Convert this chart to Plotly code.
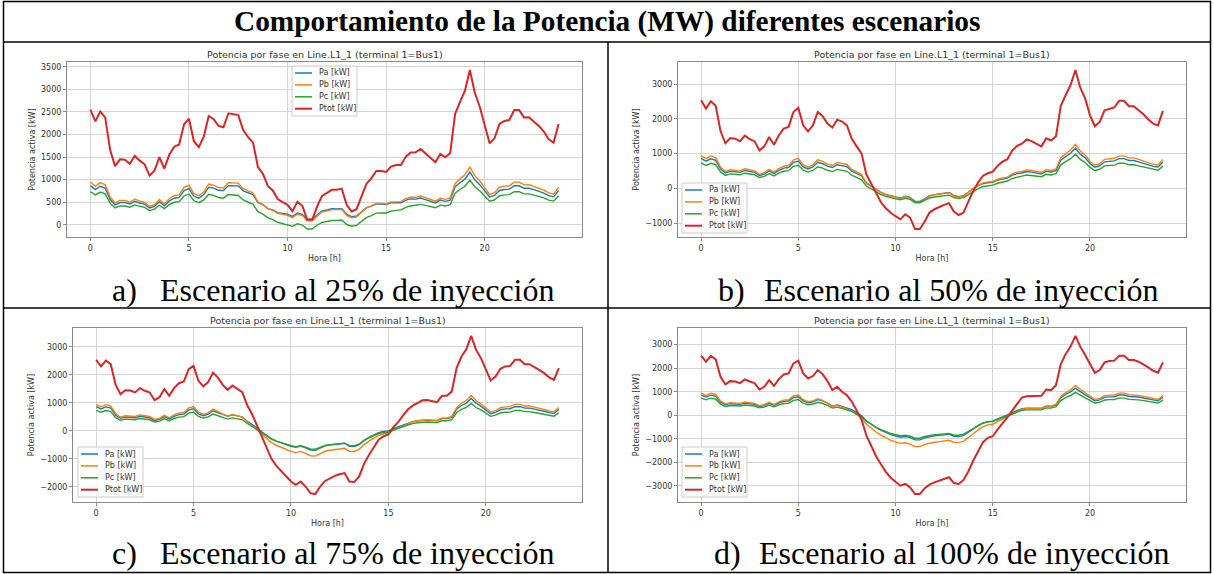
import plotly.graph_objects as go

W, H = 1214, 574

HOURS = [i / 4 for i in range(96)]
SERIES_NAMES = ["Pa [kW]", "Pb [kW]", "Pc [kW]", "Ptot [kW]"]
COLORS = ["#1f77b4", "#ff7f0e", "#2ca02c", "#d62728"]
X_TICKS = [0, 5, 10, 15, 20]

MAIN_TITLE = "Comportamiento de la Potencia (MW) diferentes escenarios"
CHART_TITLE = "Potencia por fase en Line.L1_1 (terminal 1=Bus1)"
X_LABEL = "Hora [h]"
Y_LABEL = "Potencia activa [kW]"
CAPTION_LETTERS = ["a)", "b)", "c)", "d)"]
CAPTION_TEXTS = ["Escenario al 25% de inyección", "Escenario al 50% de inyección",
                 "Escenario al 75% de inyección", "Escenario al 100% de inyección"]

# ---------------- Scenario a) 25 % ----------------
PA_A = [867, 779, 853, 809, 564, 442, 493, 490, 459, 519, 483, 456, 371, 408, 510, 422, 527, 588, 605, 757, 799,
        631, 589, 670, 831, 811, 763, 757, 867, 867, 862, 752, 704, 669, 488, 446, 358, 330, 269, 250, 233,
        185, 260, 231, 125, 125, 227, 309, 328, 354, 352, 359, 234, 181, 195, 294, 380, 414, 464, 459, 450,
        487, 494, 487, 546, 572, 567, 593, 558, 524, 485, 546, 519, 547, 842, 930, 1011,
        1166, 995, 889, 751, 614, 651, 760, 782, 789, 864, 864, 808, 809, 777, 745, 702, 644, 619, 760]
PB_A = [949, 852, 934, 885, 618, 484, 539, 536, 502, 567, 528, 498, 405, 446, 558, 461, 577, 644, 662, 828, 874,
        689, 642, 729, 904, 878, 825, 816, 933, 930, 923, 801, 745, 704, 503, 453, 355, 321, 252, 228, 208,
        156, 236, 202, 87, 87, 198, 286, 307, 335, 335, 344, 208, 153, 169, 278, 375, 417, 474, 472, 463,
        505, 516, 512, 580, 610, 608, 637, 600, 563, 523, 590, 562, 594, 917, 1016, 1106,
        1276, 1088, 973, 822, 671, 712, 831, 856, 863, 945, 945, 884, 885, 850, 815, 768, 705, 677, 831]
PC_A = [734, 660, 723, 685, 478, 374, 418, 415, 389, 439, 409, 386, 314, 346, 432, 357, 446, 498, 513, 641, 677,
        531, 489, 552, 676, 652, 605, 589, 672, 660, 648, 550, 496, 451, 289, 236, 153, 115, 55, 28, 7,
        -35, 21, -7, -95, -95, -11, 53, 72, 93, 95, 104, 5, -33, -14, 73, 157, 204, 257, 264, 261,
        303, 320, 330, 387, 420, 431, 452, 428, 405, 378, 435, 415, 445, 697, 781, 853,
        988, 842, 753, 636, 520, 552, 644, 662, 668, 732, 732, 684, 685, 658, 631, 595, 546, 524, 644]
PTOT_A = [2550, 2290, 2510, 2380, 1660, 1300, 1450, 1440, 1350, 1525, 1420, 1340, 1090, 1200, 1500, 1240, 1550,
          1730, 1780, 2225, 2350,
          1850, 1720, 1950, 2410, 2340, 2190, 2160, 2470, 2455, 2430, 2100, 1940, 1820, 1275, 1130, 860, 760,
          570, 500, 440, 300, 510, 420, 110, 110, 405, 640, 700, 775, 775, 800, 440, 295, 345, 640, 905, 1030,
          1190, 1190, 1170, 1290, 1325, 1325, 1510, 1600, 1605, 1680, 1585, 1490, 1385, 1570, 1495, 1585,
          2455, 2725, 2970,
          3430, 2925, 2615, 2210, 1805, 1915, 2235, 2300, 2320, 2540, 2540, 2375, 2380, 2285, 2190, 2065,
          1895, 1820, 2235]

# ---------------- Scenario b) 50 % ----------------
PA_B = [864, 782, 853, 809, 561, 442, 493, 486, 462, 517, 483, 462, 371, 411, 503, 427, 520, 585, 602, 748, 789,
        617, 559, 619, 752, 711, 639, 602, 681, 664, 627, 497, 424, 358, 152, 62, -32, -115, -172, -215, -248,
        -279, -228, -260, -373, -373, -299, -210, -178, -154, -136, -120, -202, -236, -213, -106, -3, 79, 141,
        164, 178, 237, 274, 296, 381, 425, 443, 485, 468, 442, 415, 493, 472, 512, 810, 914, 1012,
        1159, 986, 881, 716, 609, 651, 765, 782, 792, 857, 857, 804, 804, 765, 726, 673, 634, 617, 758]
PB_B = [945, 856, 934, 885, 614, 484, 539, 532, 506, 565, 528, 506, 405, 450, 551, 467, 569, 640, 658, 818, 863,
        676, 612, 678, 823, 780, 701, 660, 748, 729, 689, 547, 467, 396, 170, 72, -30, -121, -182, -228, -265,
        -298, -243, -277, -400, -400, -320, -223, -188, -162, -142, -124, -214, -253, -228, -110, 2, 90, 159,
        183, 200, 263, 303, 326, 418, 467, 486, 534, 514, 485, 456, 541, 517, 561, 887, 1000, 1107,
        1269, 1079, 963, 783, 666, 712, 837, 856, 867, 937, 937, 880, 880, 837, 794, 737, 694, 675, 830]
PC_B = [732, 662, 723, 685, 475, 374, 418, 412, 392, 438, 409, 392, 314, 348, 426, 361, 441, 495, 510, 634, 668,
        522, 469, 517, 624, 586, 522, 485, 548, 527, 493, 380, 311, 249, 69, -15, -99, -176, -227, -269, -300,
        -326, -288, -316, -411, -411, -350, -276, -249, -229, -211, -195, -263, -288, -266, -172, -80, -4, 55,
        79, 94, 149, 186, 212, 286, 329, 352, 387, 376, 356, 336, 405, 388, 425, 678, 770, 856,
        982, 835, 746, 606, 516, 552, 648, 662, 671, 726, 726, 681, 681, 648, 615, 570, 537, 523, 642]
PTOT_B = [2540, 2300, 2510, 2380, 1650, 1300, 1450, 1430, 1360, 1520, 1420, 1360, 1090, 1210, 1480, 1255, 1530,
          1720, 1770, 2200, 2320,
          1815, 1640, 1815, 2200, 2080, 1865, 1750, 1980, 1925, 1815, 1430, 1210, 1010, 400, 130, -150, -400,
          -570, -700, -800, -890, -745, -840, -1170, -1170, -955, -695, -600, -530, -475, -425, -665, -765,
          -695, -375, -70, 175, 365, 435, 480, 655, 770, 840, 1090, 1225, 1285, 1410, 1360, 1285, 1210, 1440,
          1380, 1500, 2375, 2685, 2975,
          3410, 2900, 2590, 2105, 1790, 1915, 2250, 2300, 2330, 2520, 2520, 2365, 2365, 2250, 2135, 1980,
          1865, 1815, 2230]

# ---------------- Scenario c) 75 % ----------------
PA_C = [862, 782, 853, 809, 558, 445, 493, 490, 466, 519, 486, 466, 372, 408, 507, 425, 519, 578, 598, 748, 789,
        608, 542, 598, 717, 658, 572, 516, 570, 539, 498, 343, 239, 108, -32, -155, -288, -368, -434, -488,
        -550, -590, -546, -607, -688, -699, -607, -537, -504, -476, -457, -444, -549, -558, -492, -341, -235,
        -151, -62, -25, -3, 79, 139, 212, 284, 328, 360, 388, 389, 373, 360, 434, 434, 482, 768, 905, 992,
        1153, 983, 882, 741, 612, 660, 753, 782, 789, 862, 862, 809, 809, 774, 741, 700, 648, 619, 762]
PB_C = [943, 856, 934, 885, 610, 487, 539, 536, 510, 567, 532, 510, 407, 446, 554, 465, 567, 632, 655, 818, 863,
        663, 587, 642, 765, 696, 597, 529, 582, 539, 487, 315, 192, 38, -120, -267, -419, -516, -592, -660,
        -732, -777, -735, -803, -890, -903, -803, -731, -693, -663, -640, -624, -733, -739, -662, -493, -371,
        -266, -161, -113, -85, 11, 85, 176, 259, 315, 361, 389, 395, 382, 371, 456, 457, 515, 828, 986, 1083,
        1261, 1075, 965, 811, 670, 722, 824, 856, 863, 943, 943, 885, 885, 846, 811, 766, 709, 677, 833]
PC_C = [730, 662, 723, 685, 472, 377, 418, 415, 395, 439, 412, 395, 315, 346, 429, 360, 439, 490, 507, 634, 668,
        514, 456, 500, 598, 546, 471, 420, 463, 432, 394, 262, 170, 54, -67, -178, -293, -366, -424, -473,
        -528, -563, -528, -580, -648, -658, -580, -523, -494, -471, -453, -442, -528, -533, -475, -346, -254,
        -176, -97, -62, -41, 31, 86, 153, 216, 257, 289, 312, 315, 304, 294, 359, 359, 402, 644, 765, 840,
        976, 832, 747, 628, 518, 559, 638, 662, 668, 730, 730, 685, 685, 655, 628, 593, 549, 524, 645]
PTOT_C = [2535, 2300, 2510, 2380, 1640, 1310, 1450, 1440, 1370, 1525, 1430, 1370, 1095, 1200, 1490, 1250, 1525,
          1700, 1760, 2200, 2320,
          1785, 1585, 1740, 2080, 1900, 1640, 1465, 1615, 1510, 1380, 920, 600, 200, -220, -600, -1000, -1250,
          -1450, -1620, -1810, -1930, -1810, -1990, -2225, -2260, -1990, -1790, -1690, -1610, -1550, -1510,
          -1810, -1830, -1630, -1180, -860, -595, -320, -200, -130, 120, 310, 540, 760, 900, 1010, 1090, 1100,
          1060, 1025, 1250, 1250, 1400, 2240, 2655, 2915,
          3390, 2890, 2595, 2180, 1800, 1940, 2215, 2300, 2320, 2535, 2535, 2380, 2380, 2275, 2180, 2060,
          1905, 1820, 2240]

# ---------------- Scenario d) 100 % ----------------
PA_D = [860, 774, 857, 808, 556, 445, 493, 488, 464, 517, 488, 464, 372, 411, 508, 425, 522, 590, 605, 750, 789,
        607, 536, 574, 666, 611, 512, 388, 439, 374, 327, 237, 114, -8, -232, -384, -523, -631, -737, -817,
        -875, -929, -900, -947, -1045, -1045, -961, -905, -872, -849, -830, -803, -890, -905, -851, -728,
        -578, -441, -326, -268, -248, -154, -77, 9, 103, 193, 280, 298, 301, 299, 296, 385, 373, 443, 747,
        889, 992,
        1146, 991, 870, 750, 614, 653, 763, 784, 789, 860, 860, 797, 797, 774, 734, 692, 643, 614, 763]
PB_D = [941, 846, 937, 884, 608, 487, 539, 534, 508, 565, 534, 508, 407, 450, 556, 465, 571, 645, 662, 820, 863,
        660, 578, 612, 702, 637, 522, 376, 425, 341, 282, 180, 33, -115, -367, -550, -709, -842, -964, -1062,
        -1131, -1191, -1166, -1222, -1327, -1327, -1237, -1182, -1143, -1117, -1094, -1060, -1150, -1161,
        -1095, -956, -782, -617, -480, -406, -381, -268, -175, -66, 42, 152, 261, 280, 289, 291, 293, 396,
        386, 469, 802, 966, 1083,
        1254, 1084, 952, 820, 671, 714, 835, 857, 863, 941, 941, 872, 872, 846, 804, 757, 703, 671, 835]
PC_D = [729, 655, 726, 684, 471, 377, 418, 413, 393, 438, 413, 393, 315, 348, 431, 360, 442, 500, 513, 635, 668,
        513, 451, 479, 552, 502, 416, 306, 345, 285, 241, 163, 53, -57, -251, -387, -508, -607, -699, -771,
        -824, -870, -849, -890, -972, -972, -902, -858, -828, -808, -791, -766, -837, -849, -799, -692, -561,
        -438, -334, -281, -262, -178, -109, -28, 54, 135, 215, 231, 236, 236, 236, 314, 306, 368, 625, 750,
        840,
        971, 840, 737, 635, 520, 553, 647, 664, 668, 729, 729, 675, 675, 655, 622, 586, 544, 520, 647]
PTOT_D = [2530, 2275, 2520, 2375, 1635, 1310, 1450, 1435, 1365, 1520, 1435, 1365, 1095, 1210, 1495, 1250, 1535,
          1735, 1780, 2205, 2320,
          1780, 1565, 1665, 1920, 1750, 1450, 1070, 1210, 1000, 850, 580, 200, -180, -850, -1320, -1740, -2080,
          -2400, -2650, -2830, -2990, -2915, -3060, -3345, -3345, -3100, -2945, -2845, -2775, -2715, -2630,
          -2875, -2915, -2745, -2375, -1920, -1495, -1140, -955, -890, -600, -360, -85, 200, 480, 755, 810,
          825, 825, 825, 1095, 1065, 1280, 2175, 2605, 2915,
          3370, 2915, 2560, 2205, 1805, 1920, 2245, 2305, 2320, 2530, 2530, 2345, 2345, 2275, 2160, 2035,
          1890, 1805, 2245]

Y_TICKS_A = [0, 500, 1000, 1500, 2000, 2500, 3000, 3500]
Y_TICKS_B = [-1000, 0, 1000, 2000, 3000]
Y_TICKS_C = [-2000, -1000, 0, 1000, 2000, 3000]
Y_TICKS_D = [-3000, -2000, -1000, 0, 1000, 2000, 3000]

# layout (pixels): plot box (left, top, right, bottom), legend box top-left, caption positions
PANELS = [
    dict(series=[PA_A, PB_A, PC_A, PTOT_A], yticks=Y_TICKS_A, box=(67, 62, 582, 237),
         legend=(292, 66), cap=(110, 158, 290)),
    dict(series=[PA_B, PB_B, PC_B, PTOT_B], yticks=Y_TICKS_B, box=(678, 62, 1186, 237),
         legend=(682, 183), cap=(716, 762, 290)),
    dict(series=[PA_C, PB_C, PC_C, PTOT_C], yticks=Y_TICKS_C, box=(73, 328, 582, 502),
         legend=(78, 447), cap=(110, 158, 553)),
    dict(series=[PA_D, PB_D, PC_D, PTOT_D], yticks=Y_TICKS_D, box=(678, 328, 1186, 502),
         legend=(682, 447), cap=(712, 757, 553)),
]
LEG_W, LEG_H, LEG_ROW, LEG_FIRST = 65, 50, 11.9, 7.0


def fx(px):
    return px / W


def fy(py):
    return 1 - py / H


fig = go.Figure()
layout = dict(width=W, height=H, autosize=False, margin=dict(l=0, r=0, t=0, b=0),
              paper_bgcolor="white", plot_bgcolor="white", showlegend=False,
              font=dict(family="DejaVu Sans", size=8, color="#333"))
annotations = []
shapes = []

xmin, xmax = HOURS[0], HOURS[-1]
xpad = 0.05 * (xmax - xmin)

for i, p in enumerate(PANELS):
    n = "" if i == 0 else str(i + 1)
    for k, vals in enumerate(p["series"]):
        assert len(vals) == len(HOURS)
        fig.add_trace(go.Scatter(
            x=HOURS, y=vals, mode="lines", name=SERIES_NAMES[k],
            line=dict(color=COLORS[k], width=2.0 if k == 3 else 1.4),
            xaxis="x" + n, yaxis="y" + n))
    allv = [v for s in p["series"] for v in s]
    ymin, ymax = min(allv), max(allv)
    ypad = 0.05 * (ymax - ymin)
    l, t, r, b = p["box"]
    common = dict(showline=True, mirror=True, linecolor="#8a8a8a", linewidth=1,
                  showgrid=True, gridcolor="#d4d4d4", gridwidth=1, zeroline=False,
                  ticks="outside", ticklen=3, tickcolor="#8a8a8a",
                  tickfont=dict(family="DejaVu Sans", size=8, color="#333"))
    layout["xaxis" + n] = dict(domain=[fx(l), fx(r)], anchor="y" + n,
                               range=[xmin - xpad, xmax + xpad], tickvals=X_TICKS,
                               title=dict(text=X_LABEL, standoff=3,
                                          font=dict(family="DejaVu Sans", size=8, color="#333")),
                               **common)
    layout["yaxis" + n] = dict(domain=[fy(b), fy(t)], anchor="x" + n,
                               range=[ymin - ypad, ymax + ypad], tickvals=p["yticks"],
                               title=dict(text=Y_LABEL, standoff=4,
                                          font=dict(family="DejaVu Sans", size=8, color="#333")),
                               **common)
    # legend (matplotlib-like compact box)
    lx, ly = p["legend"]
    shapes.append(dict(type="rect", xref="paper", yref="paper", layer="above",
                       x0=fx(lx), x1=fx(lx + LEG_W), y0=fy(ly + LEG_H), y1=fy(ly),
                       fillcolor="rgba(255,255,255,0.85)", line=dict(color="#cccccc", width=1)))
    for k, name in enumerate(SERIES_NAMES):
        ey = ly + LEG_FIRST + LEG_ROW * k
        shapes.append(dict(type="line", xref="paper", yref="paper", layer="above",
                           x0=fx(lx + 3), x1=fx(lx + 20), y0=fy(ey), y1=fy(ey),
                           line=dict(color=COLORS[k], width=2.0 if k == 3 else 1.5)))
        annotations.append(dict(text=name, x=fx(lx + 25), y=fy(ey), xref="paper", yref="paper",
                                xanchor="left", yanchor="middle", showarrow=False,
                                font=dict(family="DejaVu Sans", size=8, color="#333")))
    # chart title
    annotations.append(dict(text=CHART_TITLE, x=fx((l + r) / 2), y=fy(t - 8), xref="paper", yref="paper",
                            xanchor="center", yanchor="middle", showarrow=False,
                            font=dict(family="DejaVu Sans", size=9.5, color="#333")))
    cx_letter, cx_text, cy = p["cap"]
    annotations.append(dict(text=CAPTION_LETTERS[i], x=fx(cx_letter), y=fy(cy), xref="paper", yref="paper",
                            xanchor="left", yanchor="middle", showarrow=False,
                            font=dict(family="Liberation Serif", size=32, color="black")))
    annotations.append(dict(text=CAPTION_TEXTS[i], x=fx(cx_text), y=fy(cy), xref="paper", yref="paper",
                            xanchor="left", yanchor="middle", showarrow=False,
                            font=dict(family="Liberation Serif", size=32, color="black")))

annotations.append(dict(text="<b>" + MAIN_TITLE + "</b>", x=fx(607), y=fy(21), xref="paper", yref="paper",
                        xanchor="center", yanchor="middle", showarrow=False,
                        font=dict(family="Liberation Serif", size=29.3, color="black")))


def hline(y, x0, x1):
    return dict(type="line", xref="paper", yref="paper", x0=fx(x0), x1=fx(x1), y0=fy(y), y1=fy(y),
                line=dict(color="black", width=1.5))


def vline(x, y0, y1):
    return dict(type="line", xref="paper", yref="paper", x0=fx(x), x1=fx(x), y0=fy(y0), y1=fy(y1),
                line=dict(color="black", width=1.5))


shapes += [hline(1.5, 3, 1211), hline(42, 3, 1211), hline(308, 3, 1211), hline(572.5, 3, 1211),
           vline(3.5, 1, 573), vline(1210.5, 1, 573), vline(608, 42, 573)]

layout["annotations"] = annotations
layout["shapes"] = shapes
fig.update_layout(**layout)

fig.write_html("out.html", config={"displayModeBar": False},
               post_script="document.body.style.margin='0';")
